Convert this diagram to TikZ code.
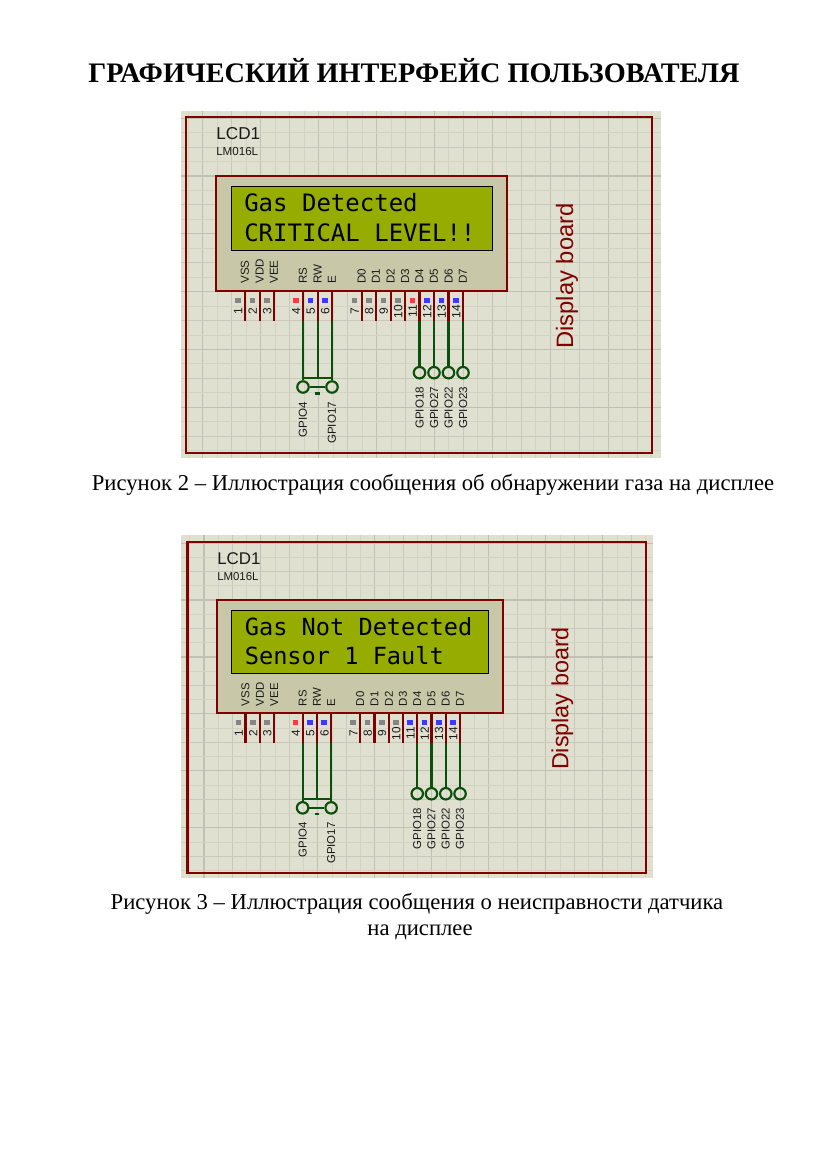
\documentclass[tikz,border=0pt]{standalone}
\usepackage{fontspec}
\setmainfont{Liberation Serif}
\newfontfamily\arialf{Liberation Sans}
\newfontfamily\lcdf{DejaVu Sans Mono}
\definecolor{sheet}{HTML}{DFE0D0}
\definecolor{gridA}{HTML}{D2D3C3}
\definecolor{gridB}{HTML}{C8C9BA}
\definecolor{gridC}{HTML}{C0C1B2}
\definecolor{wineline}{HTML}{800000}
\definecolor{lcdbody}{HTML}{C8C8A8}
\definecolor{lcdscreen}{HTML}{96AD00}
\definecolor{wiregreen}{HTML}{0A4F0A}
\definecolor{pinG}{HTML}{858585}
\definecolor{pinR}{HTML}{FF3A3A}
\definecolor{pinB}{HTML}{3A3AFF}
\definecolor{inktext}{HTML}{1A1A1A}
\tikzset{
  framebox/.style={draw=wineline,line width=1.6pt},
  pinwire/.style={draw=wineline,line width=1.6pt},
  netwire/.style={draw=wiregreen,line width=1.6pt},
  terminal/.style={circle,draw=wiregreen,line width=1.6pt,fill=none,minimum size=8.6pt,inner sep=0pt},
  sanslabel/.style={inner sep=0pt,text=inktext,font=\arialf\fontsize{\fsA}{\fsA}\selectfont},
  pinnum/.style={inner sep=0pt,text=inktext,font=\arialf\fontsize{\fsE}{\fsE}\selectfont,rotate=90},
  pinname/.style={sanslabel,rotate=90,anchor=west},
  netname/.style={sanslabel,rotate=90,anchor=east},
  lcdtext/.style={inner sep=0pt,anchor=base west,font=\lcdf\fontsize{\fsD}{\fsD}\selectfont},
  capt/.style={inner sep=0pt,font=\fontsize{17pt}{17pt}\selectfont}
}
% #1 prefix, #2 x, #3 y, #4 xscale, #5 yscale, #6 sheet right, #7 colour of pin 11, #8 line 1, #9 line 2
\newcommand{\lcdpanel}[9]{%
\pgfmathsetmacro\fsA{8.7*#4}%
\pgfmathsetmacro\fsB{12.9*#4}%
\pgfmathsetmacro\fsC{17.8*#4}%
\pgfmathsetmacro\fsD{18*#4}%
\pgfmathsetmacro\fsE{9*#4}%
\begin{scope}[shift={(#2,#3)},x=#4*0.75pt,y=-#5*0.75pt]
  \fill[sheet] (\sheetL,\sheetT) rectangle (#6,282);
  \begin{scope}
    \clip (\sheetL,\sheetT) rectangle (#6,282);
    \foreach \i in {-3,...,31}{
      \pgfmathtruncatemacro\m{mod(\i+16,4)}
      \pgfmathsetmacro\xx{1.2+14.48*\i}
      \ifnum\m=3 \draw[gridC,line width=.85pt] (\xx,\sheetT) -- (\xx,282);
      \else\ifnum\m=1 \draw[gridB,line width=.75pt] (\xx,\sheetT) -- (\xx,282);
      \else \draw[gridA,line width=.6pt] (\xx,\sheetT) -- (\xx,282);\fi\fi
    }
    \foreach \i in {-5,...,20}{
      \pgfmathtruncatemacro\m{mod(\i+16,4)}
      \pgfmathsetmacro\yy{14.45*\i}
      \ifnum\m=0 \draw[gridC,line width=.85pt] (\sheetL,\yy) -- (#6,\yy);
      \else\ifnum\m=2 \draw[gridB,line width=.75pt] (\sheetL,\yy) -- (#6,\yy);
      \else \draw[gridA,line width=.6pt] (\sheetL,\yy) -- (#6,\yy);\fi\fi
    }
  \end{scope}
  \draw[framebox] (-30,-59) rectangle (436,277);
  \path[fill=lcdbody] (0,0) rectangle (291,115);
  \draw[framebox] (0,0) rectangle (291,115);
  \draw[black,fill=lcdscreen,line width=.75pt] (15,10.5) rectangle (276,74.5);
  \node[lcdtext] (#1l1) at (28,35.7) {#8};
  \node[lcdtext] (#1l2) at (28,65.7) {#9};
  \node[sanslabel,anchor=west,font=\arialf\fontsize{\fsB}{\fsB}\selectfont] (#1ref) at (0,-42) {LCD1};
  \node[sanslabel,anchor=west] (#1val) at (0,-24) {LM016L};
  \node[inner sep=0pt,rotate=90,text=wineline,font=\arialf\fontsize{\fsC}{\fsC}\selectfont] (#1brd) at (351,100) {Display board};
  \foreach \px/\pc/\pn/\pt in {29/pinG/1/VSS,43.6/pinG/2/VDD,58/pinG/3/VEE,87/pinR/4/RS,101.6/pinB/5/RW,116/pinB/6/E,145.6/pinG/7/D0,160/pinG/8/D1,174.6/pinG/9/D2,189/pinG/10/D3,203.5/#7/11/D4,218/pinB/12/D5,232.5/pinB/13/D6,247/pinB/14/D7}{
    \coordinate (#1top\pn) at (\px,115);
    \coordinate (#1end\pn) at (\px,145);
    \draw[pinwire] (#1top\pn) -- (#1end\pn);
    \fill[\pc] (\px-10,121.5) rectangle (\px-4.2,127.3);
    \node[pinnum] (#1num\pn) at (\px-6.8,135.5) {\pn};
    \node[pinname] (#1nam\pn) at (\px,108) {\pt};
  }
  % upper bus
  \node[terminal] (#1gpf) at (87,211) {};
  \node[terminal] (#1gps) at (116,211) {};
  \coordinate (#1barL) at (87,202);
  \coordinate (#1barM) at (101.6,202);
  \coordinate (#1barR) at (116,202);
  \draw[netwire] (#1end4) -- (#1gpf);
  \draw[netwire] (#1end6) -- (#1gps);
  \draw[netwire] (#1end5) -- (#1barM);
  \draw[netwire] (#1barL) -- (#1barR);
  \draw[netwire] (#1gpf) -- (#1gps);
  \coordinate (#1dA) at (99.4,217.5);
  \coordinate (#1dB) at (103.8,217.5);
  \draw[netwire] (#1dA) -- (#1dB);
  \node[netname] (#1lf) at (87,225.7) {GPIO4};
  \node[netname] (#1ls) at (116,225.7) {GPIO17};
  % data bus
  \foreach \px/\pn/\pt in {203.5/11/GPIO18,218/12/GPIO27,232.5/13/GPIO22,247/14/GPIO23}{
    \node[terminal] (#1t\pn) at (\px,196.7) {};
    \draw[netwire] (#1end\pn) -- (#1t\pn);
    \node[netname] (#1tl\pn) at (\px,210.7) {\pt};
  }
\end{scope}}
\begin{document}
\begin{tikzpicture}[x=0.75pt,y=-0.75pt]
  \useasboundingbox[fill=white] (0,0) rectangle (827,1169);
  \node[inner sep=0pt,font=\bfseries\fontsize{21.2pt}{21.2pt}\selectfont] (title) at (414,71) {ГРАФИЧЕСКИЙ ИНТЕРФЕЙС ПОЛЬЗОВАТЕЛЯ};
  \def\sheetL{-35}\def\sheetT{-65}
  \lcdpanel{a}{216}{176}{1}{1}{445}{pinR}{Gas Detected}{CRITICAL LEVEL!!}
  \node[capt] (capa) at (433,485) {Рисунок 2 – Иллюстрация сообщения об обнаружении газа на дисплее};
  \def\sheetL{-36.6}\def\sheetT{-66}
  \lcdpanel{b}{217}{600}{0.984}{0.985}{443}{pinB}{Gas Not Detected}{Sensor 1 Fault}
  \node[capt] (capb) at (417,904) {Рисунок 3 – Иллюстрация сообщения о неисправности датчика};
  \node[capt] (capc) at (420,932) {на дисплее};
\end{tikzpicture}
\end{document}
